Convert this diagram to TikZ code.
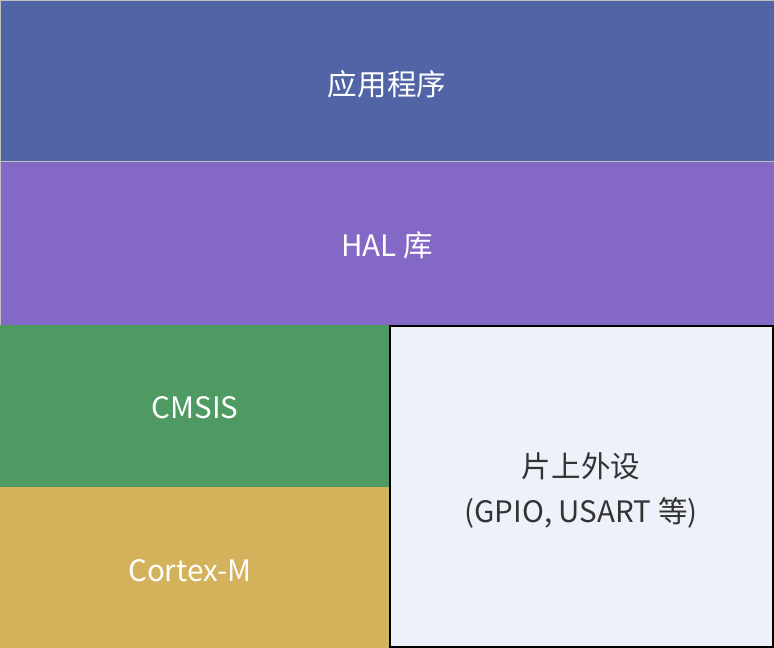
\documentclass[tikz,border=0pt]{standalone}
\usepackage{fontspec}
\setmainfont{Noto Sans CJK SC}
\definecolor{appblue}{HTML}{5064A6}
\definecolor{halviolet}{HTML}{8468C6}
\definecolor{cmsisgreen}{HTML}{4E9A62}
\definecolor{cortexgold}{HTML}{D4B25B}
\definecolor{periphbg}{HTML}{EEF1F9}
\definecolor{darktext}{HTML}{333333}
\tikzset{
	layer/.style={draw=white!75!black, line width=0.4pt},
	label/.style={text=white, font=\fontsize{21}{26}\selectfont},
	darklabel/.style={text=darktext, font=\fontsize{21}{32}\selectfont, align=center}
}
\begin{document}
\begin{tikzpicture}[x=0.025cm, y=-0.025cm]
	\useasboundingbox (0, 0) rectangle (774, 648);
	\fill[appblue, layer](0, 0) rectangle (774, 161);%Anwendung
	\fill[halviolet, layer](0, 161) rectangle (774, 325);%HAL
	\fill[cmsisgreen](0, 325) rectangle (389, 487);%CMSIS
	\fill[cortexgold](0, 487) rectangle (389, 648);%Kern
	\draw[line width=1.5pt, fill=periphbg](390, 326) rectangle (773, 647);%Peripherie
	\node[label] (app) at (387, 84) {应用程序};
	\node[label] (hal) at (387, 245) {HAL 库};
	\node[label] (cmsis) at (195, 408) {CMSIS};
	\node[label] (cortex) at (190, 571) {Cortex-M};
	\node[darklabel] (periph) at (581, 490) {片上外设\\(GPIO, USART 等)};

	\end{tikzpicture}
\end{document}
